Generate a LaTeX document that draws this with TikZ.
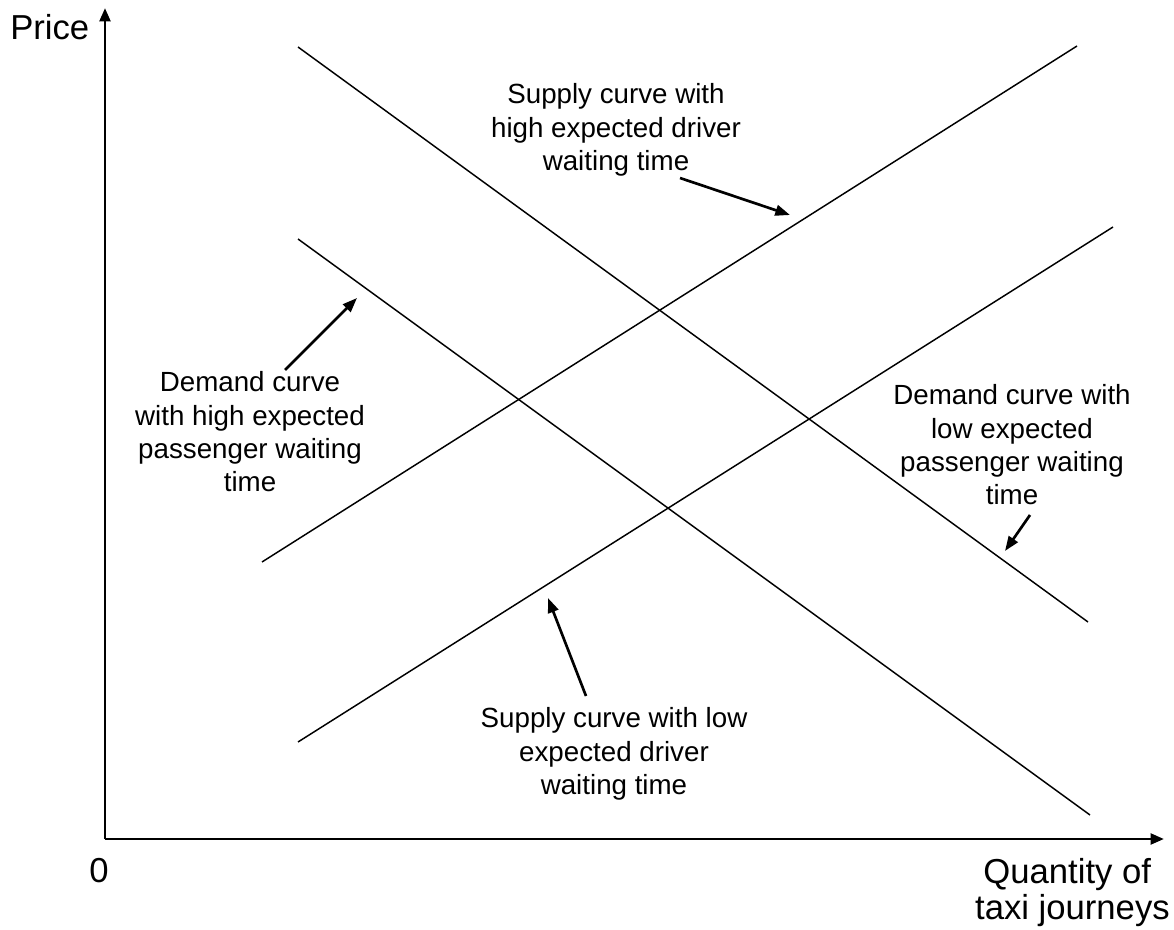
\documentclass[tikz,border=0pt]{standalone}
\usepackage{fontspec}
\setmainfont{Liberation Sans}
\usepackage{xcolor}
\definecolor{cInk}{HTML}{000000}
\usepackage{tikz}
\usetikzlibrary{arrows.meta}
\tikzset{
  curve-line/.style={draw=cInk,line width=1.1pt},
  axis-arrow/.style={-{Triangle[length=10pt,width=8pt]},draw=cInk,line width=2.2pt},
  label-arrow/.style={-{Triangle[length=11pt,width=8pt]},draw=cInk,line width=2pt},
  label-text/.style={align=center,inner sep=0pt,font=\fontsize{20.8}{25}\selectfont},
  axis-text/.style={inner sep=0pt,font=\fontsize{26}{27}\selectfont},
}

\begin{document}
\begin{tikzpicture}[x=0.75pt,y=-0.75pt]
  \useasboundingbox (0,0) rectangle (1174,930);

  % axes
  \coordinate (origin) at (105,839);
  \coordinate (y-top)  at (105,8);
  \coordinate (x-end)  at (1164,839);
  \draw[axis-arrow] (origin) -- (y-top);
  \draw[axis-arrow] (origin) -- (x-end);
  \node[axis-text,anchor=base west] (price) at (10,40) {Price};
  \node[axis-text,anchor=base] (zero) at (99,882) {0};
  \node[axis-text,align=right,anchor=base east] (qty) at (1170,919) {Quantity of\hspace*{14pt}\\taxi journeys};

  % demand curves
  \coordinate (dh-a) at (298,239);  \coordinate (dh-b) at (1090,815);
  \coordinate (dl-a) at (298,47);   \coordinate (dl-b) at (1088,622);
  \draw[curve-line] (dh-a) -- (dh-b);
  \draw[curve-line] (dl-a) -- (dl-b);

  % supply curves
  \coordinate (sh-a) at (262,562);  \coordinate (sh-b) at (1077,46);
  \coordinate (sl-a) at (298,742);  \coordinate (sl-b) at (1113,227);
  \draw[curve-line] (sh-a) -- (sh-b);
  \draw[curve-line] (sl-a) -- (sl-b);

  % labels
  \node[label-text] (lbl-sh) at (616,130) {Supply curve with\\high expected driver\\waiting time};
  \node[label-text] (lbl-dh) at (250,432) {Demand curve\\with high expected\\passenger waiting\\time};
  \node[label-text] (lbl-dl) at (1012,445) {Demand curve with\\low expected\\passenger waiting\\time};
  \node[label-text] (lbl-sl) at (614,754) {Supply curve with low\\expected driver\\waiting time};

  % pointers
  \coordinate (sh-from) at (680,178);  \coordinate (sh-to) at (790,215);
  \coordinate (dh-from) at (285,370);  \coordinate (dh-to) at (357,298);
  \coordinate (dl-from) at (1030,515); \coordinate (dl-to) at (1005,551);
  \coordinate (sl-from) at (586,696);  \coordinate (sl-to) at (548,598);
  \draw[label-arrow] (sh-from) -- (sh-to);
  \draw[label-arrow] (dh-from) -- (dh-to);
  \draw[label-arrow] (dl-from) -- (dl-to);
  \draw[label-arrow] (sl-from) -- (sl-to);
\end{tikzpicture}
\end{document}
